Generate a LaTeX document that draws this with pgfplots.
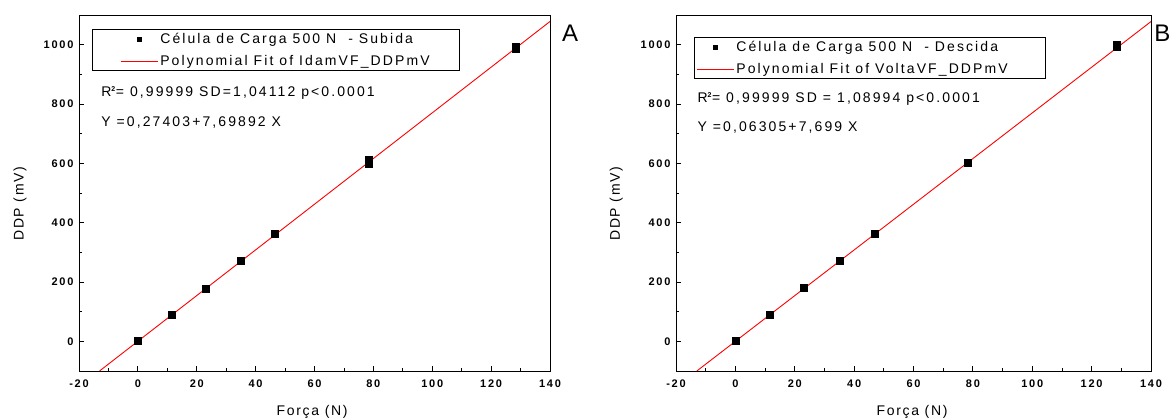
\documentclass[border=0pt]{standalone}
\usepackage{fontspec}
\setmainfont{Liberation Sans}
\newfontfamily\lsfont[LetterSpace=15]{Liberation Sans}
\newfontfamily\lblfont[LetterSpace=12]{Liberation Sans}
\newfontfamily\tkfont[LetterSpace=16]{Liberation Sans Bold}
\newcommand\legfont{\lsfont\fontsize{14}{16}\selectfont}
\newcommand\lblfnt{\lblfont\fontsize{14}{16}\selectfont}
\newcommand\tickfnt{\tkfont\fontsize{11}{11}\selectfont}
\usepackage{pgfplots}
\pgfplotsset{compat=1.18}

\pgfplotsset{
  myaxis/.style={
    scale only axis, width=471pt, height=356pt,
    anchor=south west,
    xmin=-20, xmax=140, ymin=-100, ymax=1100,
    xtick={-20,0,20,40,60,80,100,120,140},
    ytick={0,200,400,600,800,1000},
    minor x tick num=1, minor y tick num=1,
    tick align=inside, xtick pos=bottom, ytick pos=left,
    major tick length=5pt, minor tick length=3pt,
    axis line style={line width=0.9pt},
    every tick/.style={black, line width=0.8pt},
    /pgf/number format/assume math mode=true,
    /pgf/number format/set thousands separator={},
    xticklabel={\tickfnt\pgfmathprintnumber{\tick}},
    yticklabel={\tickfnt\pgfmathprintnumber{\tick}},
    xticklabel style={yshift=-5pt},
    yticklabel style={xshift=-2pt},
    xlabel={\lblfnt Força (N)}, ylabel={\lblfnt DDP (mV)},
    ylabel style={at={(axis description cs:-0.1253,0.47)}, anchor=center},
    xlabel style={at={(axis description cs:0.495,-0.115)}, anchor=center},
    legend cell align=left,
    legend style={draw=black, line width=0.8pt, inner sep=2pt, row sep=6pt,
      nodes={font=\legfont}},
  },
  legMarkA/.style={legend image code/.code={\path (-26pt,0pt); \draw[##1, mark size=2.2pt] plot coordinates {(18.5pt,0pt)};}},
  legLineA/.style={legend image code/.code={\path (-26pt,0pt); \draw[##1] (0pt,0pt) -- (37pt,0pt);}},
  legMarkB/.style={legend image code/.code={\draw[##1, mark size=2.2pt] plot coordinates {(18.5pt,0pt)};}},
  legLineB/.style={legend image code/.code={\draw[##1] (0pt,0pt) -- (37pt,0pt);}},
}

\begin{document}
\begin{tikzpicture}
\useasboundingbox (0,0) rectangle (1174pt,419pt);

% ---------- Panel A ----------
\begin{axis}[myaxis, at={(79pt,48pt)},
  legend style={at={(0.0276,0.9607)}, anchor=north west}]
\addplot[only marks, mark=square*, mark size=3.5pt, black, legMarkA]
  coordinates {
  (0,2) (11.4,91) (23.0,179) (34.8,272) (46.4,364)
  (78.3,600) (78.3,611) (128.2,986) (128.2,994)
};
\addlegendentry{\legfont Célula de Carga 500 N\ \ - Subida}
\addplot[red, line width=0.9pt, no marks, legLineA]
  coordinates {(-13,-99.81) (140,1078.12)};
\addlegendentry{\legfont Polynomial Fit of IdamVF\_DDPmV\hspace*{26pt}}
\node[anchor=west, font=\legfont] at (rel axis cs:0.040,0.781)
  {R$^{\textbf{\scriptsize 2}}$= 0,99999 SD=1,04112 p<0.0001};
\node[anchor=west, font=\legfont] at (rel axis cs:0.040,0.699)
  {Y =0,27403+7,69892 X};
\end{axis}
\node[anchor=center, font=\fontsize{24}{24}\selectfont] at (570pt,386pt) {A};

% ---------- Panel B ----------
\begin{axis}[myaxis, at={(676pt,48pt)}, width=475pt,
  ylabel style={at={(axis description cs:-0.126,0.47)}},
  xlabel style={at={(axis description cs:0.497,-0.115)}},
  legend style={at={(0.0379,0.9382)}, anchor=north west}]
\addplot[only marks, mark=square*, mark size=3.5pt, black, legMarkB]
  coordinates {
  (0,2) (11.6,89) (23.1,181) (35.1,272) (46.8,364)
  (78.4,603) (128.4,994) (128.4,999)
};
\addlegendentry{\legfont Célula de Carga 500 N\ \ - Descida}
\addplot[red, line width=0.9pt, no marks, legLineB]
  coordinates {(-13,-100.02) (140,1077.92)};
\addlegendentry{\legfont Polynomial Fit of VoltaVF\_DDPmV\hspace*{34pt}}
\node[anchor=west, font=\legfont] at (rel axis cs:0.038,0.764)
  {R$^{\textbf{\scriptsize 2}}$= 0,99999 SD = 1,08994 p<0.0001};
\node[anchor=west, font=\legfont] at (rel axis cs:0.038,0.685)
  {Y =0,06305+7,699 X};
\end{axis}
\node[anchor=east, font=\fontsize{24}{24}\selectfont] at (1174pt,386pt) {B};
\end{tikzpicture}
\end{document}
